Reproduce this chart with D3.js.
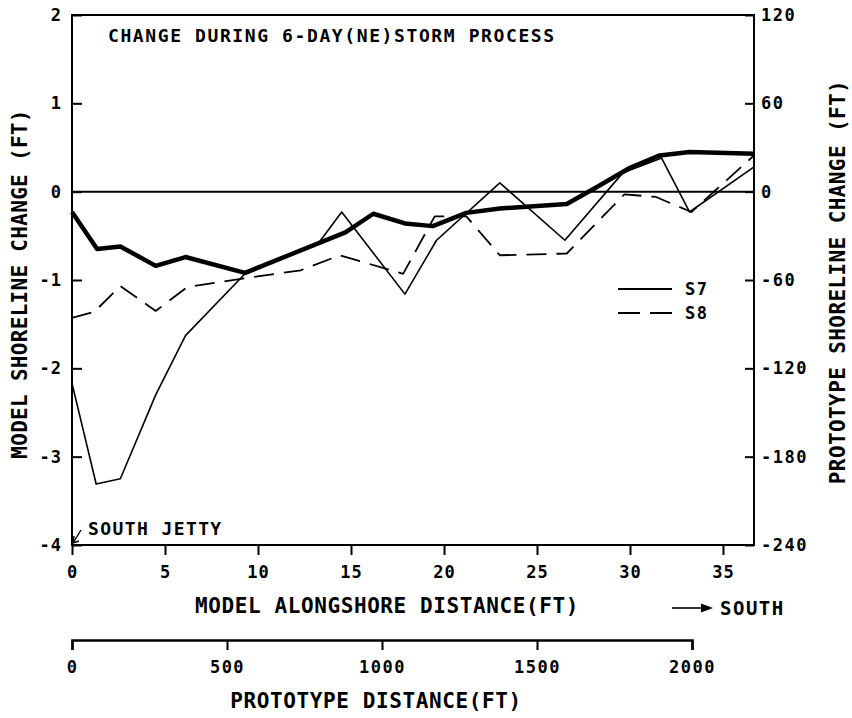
<!DOCTYPE html>
<html>
<head>
<meta charset="utf-8">
<script src="https://cdn.jsdelivr.net/npm/d3@7"></script>
<style>
  body { margin: 0; background: #fff; }
  svg text { font-family: "DejaVu Sans Mono", monospace; font-weight: bold; fill: #000; }
</style>
</head>
<body>
<svg id="chart" width="852" height="718"></svg>
<script>
// Measured (heavy line): model alongshore distance (ft) and model shoreline change (ft)
const measuredDist   = [0, 1.35, 2.6, 4.5, 6.1, 9.3, 14.7, 16.2, 17.9, 19.4, 21.2, 23.0, 26.6, 28.2, 30.0, 31.6, 33.2, 36.67];
const measuredChange = [-0.23, -0.65, -0.62, -0.84, -0.74, -0.92, -0.46, -0.25, -0.36, -0.39, -0.24, -0.19, -0.14, 0.05, 0.27, 0.41, 0.45, 0.43];

// Run S7 (thin solid line)
const s7Dist   = [0, 1.3, 2.6, 4.5, 6.1, 9.3, 13.3, 14.5, 17.9, 19.6, 23.0, 26.5, 29.6, 31.7, 33.2, 36.67];
const s7Change = [-2.17, -3.31, -3.25, -2.30, -1.63, -0.93, -0.57, -0.23, -1.16, -0.55, 0.10, -0.55, 0.21, 0.38, -0.23, 0.28];

// Run S8 (dashed line)
const s8Dist   = [0, 1.2, 2.6, 4.5, 6.2, 9.3, 12.3, 14.4, 17.8, 19.5, 21.2, 23.0, 26.6, 29.7, 31.4, 33.3, 36.67];
const s8Change = [-1.43, -1.36, -1.07, -1.35, -1.08, -0.98, -0.89, -0.72, -0.93, -0.28, -0.28, -0.72, -0.70, -0.03, -0.06, -0.23, 0.41];

// Axis tick values
const modelChangeTicks = [2, 1, 0, -1, -2, -3, -4];
const protoChangeTicks = [120, 60, 0, -60, -120, -180, -240];
const modelDistTicks   = [0, 5, 10, 15, 20, 25, 30, 35];
const protoDistTicks   = [0, 500, 1000, 1500, 2000];

const legendItems = [
  { label: "S7", dash: null },
  { label: "S8", dash: "20,10" }
];

const SCALE = 60; // prototype ft per model ft

const svg = d3.select("#chart");
const L = 72, R = 754, T = 15, B = 545;

const x = d3.scaleLinear().domain([0, 2200 / SCALE]).range([L, R]);
const y = d3.scaleLinear().domain([-4, 2]).range([B, T]);
const yProto = d3.scaleLinear().domain([-4 * SCALE, 2 * SCALE]).range([B, T]);
const xProto = d3.scaleLinear().domain([0, 2000]).range([L, x(2000 / SCALE)]);

const fmt = d => String(d);

function styleAxis(g, fontSize, spacing) {
  g.select(".domain").remove();
  g.selectAll(".tick line").attr("stroke", "#000").attr("stroke-width", 2);
  g.selectAll(".tick text")
    .attr("fill", "#000")
    .style("font-size", fontSize + "px")
    .style("letter-spacing", spacing + "px");
}

// Left axis: model shoreline change
svg.append("g")
  .attr("transform", `translate(${L},0)`)
  .call(d3.axisLeft(y).tickValues(modelChangeTicks).tickSize(-10).tickPadding(10).tickFormat(fmt))
  .call(g => styleAxis(g, 17, 1));

// Right axis: prototype shoreline change
svg.append("g")
  .attr("transform", `translate(${R},0)`)
  .call(d3.axisRight(yProto).tickValues(protoChangeTicks).tickSize(-9).tickPadding(7).tickFormat(fmt))
  .call(g => styleAxis(g, 17, 1.5));

// Bottom axis: model alongshore distance
svg.append("g")
  .attr("transform", `translate(0,${B})`)
  .call(d3.axisBottom(x).tickValues(modelDistTicks).tickSize(10).tickPadding(11).tickFormat(fmt))
  .call(g => styleAxis(g, 17, 1));

// Separate prototype distance scale bar
const protoAxis = svg.append("g")
  .attr("transform", "translate(0,640)")
  .call(d3.axisBottom(xProto).tickValues(protoDistTicks).tickSize(10).tickSizeOuter(10).tickPadding(11).tickFormat(fmt));
protoAxis.select(".domain").attr("stroke", "#000").attr("stroke-width", 2.5).attr("fill", "none");
protoAxis.selectAll(".tick line").attr("stroke", "#000").attr("stroke-width", 2);
protoAxis.selectAll(".tick text").attr("fill", "#000").style("font-size", "17px").style("letter-spacing", "1.5px");

// Plot frame and zero line
svg.append("rect")
  .attr("x", L).attr("y", T).attr("width", R - L).attr("height", B - T)
  .attr("fill", "none").attr("stroke", "#000").attr("stroke-width", 2);
svg.append("line")
  .attr("x1", L).attr("x2", R).attr("y1", y(0)).attr("y2", y(0))
  .attr("stroke", "#000").attr("stroke-width", 2);

// Series
const line = d3.line().x(d => x(d[0])).y(d => y(d[1]));
const series = [
  { dist: s8Dist, change: s8Change, width: 1.8, dash: "20,10" },
  { dist: s7Dist, change: s7Change, width: 1.6, dash: null },
  { dist: measuredDist, change: measuredChange, width: 4.5, dash: null }
];
series.forEach(s => {
  svg.append("path")
    .datum(d3.zip(s.dist, s.change))
    .attr("d", line)
    .attr("fill", "none")
    .attr("stroke", "#000")
    .attr("stroke-width", s.width)
    .attr("stroke-linejoin", "round")
    .attr("stroke-dasharray", s.dash);
});

// Legend
const legend = svg.append("g");
legendItems.forEach((item, i) => {
  const ly = 289 + i * 24;
  legend.append("line")
    .attr("x1", 618).attr("x2", 672).attr("y1", ly).attr("y2", ly)
    .attr("stroke", "#000").attr("stroke-width", 1.8)
    .attr("stroke-dasharray", item.dash ? "22,10" : null);
  legend.append("text")
    .attr("x", 685).attr("y", ly).attr("dy", "0.35em")
    .style("font-size", "17px").style("letter-spacing", "1.5px")
    .text(item.label);
});

// Title inside the plot
svg.append("text")
  .attr("x", 108).attr("y", 42)
  .style("font-size", "18px").style("letter-spacing", "1.6px")
  .text("CHANGE DURING 6-DAY(NE)STORM PROCESS");

// South jetty marker
svg.append("text")
  .attr("x", 88).attr("y", 535)
  .style("font-size", "18px").style("letter-spacing", "1.4px")
  .text("SOUTH JETTY");
svg.append("path")
  .attr("d", `M81,530 L${L + 1},${B - 2}`)
  .attr("stroke", "#000").attr("stroke-width", 1.4).attr("fill", "none");
svg.append("path")
  .attr("d", `M${L + 1},${B - 2} l1,-7 M${L + 1},${B - 2} l6,-2`)
  .attr("stroke", "#000").attr("stroke-width", 1.4).attr("fill", "none");

// Axis titles
svg.append("text")
  .attr("x", 387).attr("y", 613).attr("text-anchor", "middle")
  .style("font-size", "21px").style("letter-spacing", "0.6px")
  .text("MODEL ALONGSHORE DISTANCE(FT)");

svg.append("text")
  .attr("x", 376).attr("y", 708).attr("text-anchor", "middle")
  .style("font-size", "21px").style("letter-spacing", "0.6px")
  .text("PROTOTYPE DISTANCE(FT)");

svg.append("text")
  .attr("transform", "translate(27,284) rotate(-90)")
  .attr("text-anchor", "middle")
  .style("font-size", "21px").style("letter-spacing", "0.3px")
  .text("MODEL SHORELINE CHANGE (FT)");

svg.append("text")
  .attr("transform", "translate(845,282) rotate(-90)")
  .attr("text-anchor", "middle")
  .style("font-size", "21px").style("letter-spacing", "0.4px")
  .text("PROTOTYPE SHORELINE CHANGE (FT)");

// Direction arrow
svg.append("line")
  .attr("x1", 672).attr("x2", 704).attr("y1", 608).attr("y2", 608)
  .attr("stroke", "#000").attr("stroke-width", 1.6);
svg.append("path")
  .attr("d", "M701,603.5 L713,608 L701,612.5 Z")
  .attr("fill", "#000");
svg.append("text")
  .attr("x", 720).attr("y", 615)
  .style("font-size", "19px").style("letter-spacing", "1.5px")
  .text("SOUTH");
</script>
</body>
</html>
